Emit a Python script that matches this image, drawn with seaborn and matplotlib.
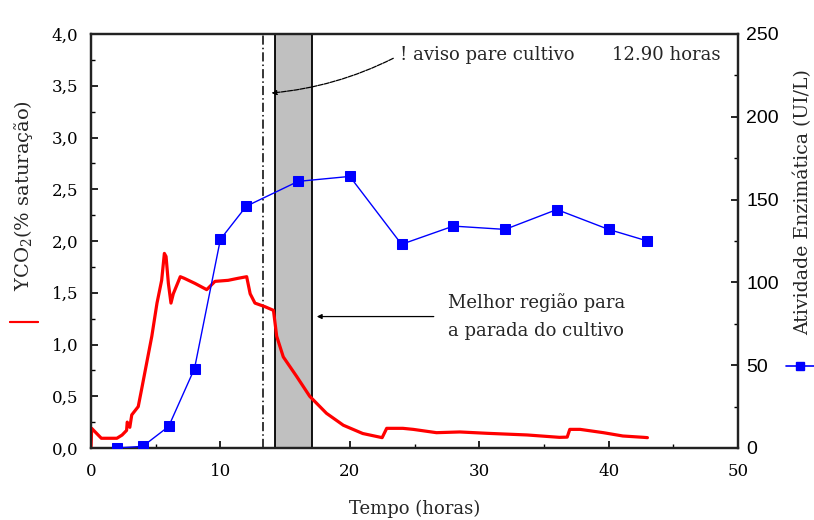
import matplotlib
matplotlib.use("Agg")
import matplotlib.pyplot as plt
from matplotlib.lines import Line2D
from matplotlib.ticker import MultipleLocator, FixedLocator
import seaborn as sns
import pandas as pd

# ---- data ----
t_co2 = [0.0, 0.05, 0.8, 2.0, 2.4, 2.75, 2.8, 3.0, 3.15, 3.65, 3.9, 4.3, 4.7, 5.1, 5.46, 5.67,
         5.8, 5.98, 6.18, 6.36, 6.9, 7.2, 8.04, 8.94, 9.58, 10.6, 11.38, 12.03, 12.3, 12.67,
         13.45, 14.1, 14.35, 14.86, 15.9, 16.9, 18.2, 19.5, 21.0, 22.5, 22.85, 24.1, 24.9,
         26.7, 28.5, 30.6, 33.7, 36.2, 36.8, 37.0, 37.8, 39.6, 41.1, 42.7, 43.0]
y_co2 = [0.0, 0.19, 0.094, 0.094, 0.125, 0.17, 0.25, 0.2, 0.32, 0.40, 0.56, 0.82, 1.08, 1.40,
         1.62, 1.88, 1.85, 1.59, 1.40, 1.49, 1.655, 1.64, 1.59, 1.53, 1.61, 1.62, 1.64, 1.655,
         1.49, 1.40, 1.365, 1.33, 1.08, 0.88, 0.69, 0.50, 0.335, 0.22, 0.14, 0.10, 0.19, 0.19,
         0.18, 0.148, 0.155, 0.142, 0.126, 0.103, 0.105, 0.18, 0.18, 0.148, 0.116, 0.103, 0.10]

t_enz = [2, 4, 6, 8, 10, 12, 16, 20, 24, 28, 32, 36, 40, 43]
y_enz = [0, 1, 13, 48, 126, 146, 161, 164, 123, 134, 132, 144, 132, 125]

x_ticks = [0, 10, 20, 30, 40, 50]
left_ticks = [0.0, 0.5, 1.0, 1.5, 2.0, 2.5, 3.0, 3.5, 4.0]
left_labels = ["0,0", "0,5", "1,0", "1,5", "2,0", "2,5", "3,0", "3,5", "4,0"]
right_ticks = [0, 50, 100, 150, 200, 250]

warn_time = 13.3
best_region = (14.2, 17.05)

df_co2 = pd.DataFrame({"t": t_co2, "y": y_co2})
df_enz = pd.DataFrame({"t": t_enz, "y": y_enz})

# ---- style ----
sns.set_style("ticks")
plt.rcParams["font.family"] = ["DejaVu Serif", "Liberation Serif"]
plt.rcParams["mathtext.fontset"] = "dejavuserif"

fig = plt.figure(figsize=(8.14, 5.2), dpi=100)
ax = fig.add_axes([91/814, 1-448/520, (738-91)/814, (448-34)/520])
ax2 = ax.twinx()

ax.axvspan(best_region[0], best_region[1], facecolor="#c0c0c0", edgecolor="black",
           linewidth=1.3, zorder=1)
ax.axvline(warn_time, color="black", linestyle=(0, (6, 2, 1, 2)), linewidth=1.1, zorder=1)

sns.lineplot(data=df_co2, x="t", y="y", ax=ax, color="#ff0000", linewidth=2.3,
             sort=False, estimator=None, zorder=3)
sns.lineplot(data=df_enz, x="t", y="y", ax=ax2, color="#0000ff", linewidth=1.0,
             marker="s", markersize=6.5, markeredgecolor="#0000ff", estimator=None, zorder=3)

ax.set_xlim(0, 50)
ax.set_ylim(0, 4.0)
ax2.set_ylim(0, 250)

ax.xaxis.set_major_locator(FixedLocator(x_ticks))
ax.xaxis.set_minor_locator(MultipleLocator(5))
ax.yaxis.set_major_locator(FixedLocator(left_ticks))
ax.set_yticklabels(left_labels)
ax.yaxis.set_minor_locator(MultipleLocator(0.25))
ax2.yaxis.set_major_locator(FixedLocator(right_ticks))
ax2.yaxis.set_minor_locator(MultipleLocator(25))

for a in (ax, ax2):
    a.tick_params(which="both", direction="in", colors="black")
    a.tick_params(which="major", length=5, width=1.2)
    a.tick_params(which="minor", length=3, width=1.0)
    for s in a.spines.values():
        s.set_linewidth(1.6)
        s.set_color("#222222")

ax.tick_params(axis="y", labelsize=12, pad=9)
ax.tick_params(axis="x", labelsize=12, pad=11)
ax2.tick_params(axis="y", labelsize=14, pad=6)
for lab in ax2.get_yticklabels():
    lab.set_fontfamily(["Liberation Sans", "DejaVu Sans"])

ax.set_xlabel("Tempo (horas)", fontsize=13)
ax.set_ylabel("YCO$_2$(% saturação)", fontsize=14)
ax2.set_ylabel("Atividade Enzimática (UI/L)", fontsize=13.6)
ax.xaxis.set_label_coords(0.5, -0.126)
ax.yaxis.set_label_coords(-0.086, 0.611)
ax2.yaxis.set_label_coords(1.086, 0.594)

# annotations
ax.annotate("! aviso pare cultivo", xy=(13.95, 3.43), xytext=(23.9, 3.8),
            fontsize=13, va="center", ha="left",
            arrowprops=dict(arrowstyle="-|>", color="black", lw=0.9, linestyle=(0, (4, 1)),
                            shrinkA=3, shrinkB=0, mutation_scale=7, relpos=(0, 0.5),
                            connectionstyle="arc3,rad=-0.1"))
ax.text(40.3, 3.8, "12.90 horas", fontsize=13, va="center", ha="left")
ax.annotate("Melhor região para\na parada do cultivo", xy=(17.45, 1.27), xytext=(27.6, 1.27),
            fontsize=13, va="center", ha="left", linespacing=1.7,
            arrowprops=dict(arrowstyle="-|>", color="black", lw=0.9, shrinkA=8, shrinkB=0,
                            mutation_scale=7))

# legend keys beside axis titles
leg1 = fig.legend(handles=[Line2D([], [], color="#ff0000", lw=1.5)], labels=[""],
                  loc="center", bbox_to_anchor=(24/814, 1-323/520), frameon=False,
                  handlelength=2.0, handletextpad=0, borderpad=0)
fig.legend(handles=[Line2D([], [], color="#0000ff", lw=1.2, marker="s", markersize=6)],
           labels=[""], loc="center", bbox_to_anchor=(800/814, 1-367/520), frameon=False,
           handlelength=2.0, handletextpad=0, borderpad=0)
fig.add_artist(leg1)

fig.savefig("out.png", dpi=100)
